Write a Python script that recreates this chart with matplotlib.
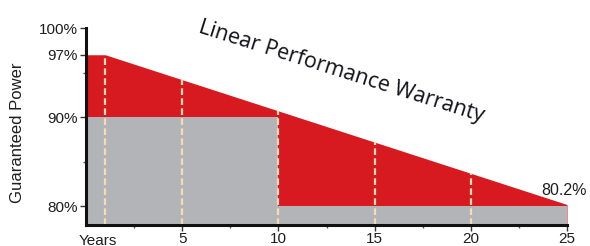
import matplotlib
matplotlib.use("Agg")
import matplotlib.pyplot as plt
import numpy as np

# data
years_line = [0, 1, 25]
warranty_line = [97.0, 97.0, 80.2]
years_step = [0, 10, 10, 25]
step_level = [90, 90, 80, 80]
dash_years = [1, 5, 10, 15, 20]
xticks = [5, 10, 15, 20, 25]
yticks = [80, 90, 97, 100]
ytick_labels = ["80%", "90%", "97%", "100%"]
end_label = "80.2%"
title = "Linear Performance Warranty"

RED = "#d71920"
GRAY = "#b3b4b7"
DASH = "#f6dcb6"
TXT = "#1e1e1e"

fig = plt.figure(figsize=(5.9, 2.46), dpi=100)
ax = fig.add_axes([86/590, 21/246, (567-86)/590, (225-28)/246])
ymin, ymax = 77.9, 100.0
ax.set_xlim(0, 25)
ax.set_ylim(ymin, ymax)

ax.fill_between(years_line, ymin, warranty_line, color=RED, lw=0, zorder=1)
ax.fill_between(years_step, ymin, step_level, color=GRAY, lw=0, zorder=2)

for yr in dash_years:
    top = np.interp(yr, years_line, warranty_line)
    ax.plot([yr, yr], [ymin, top], color=DASH, lw=1.6, ls=(0, (3, 1.5)), zorder=3)

for s in ["top", "right"]:
    ax.spines[s].set_visible(False)
for s in ["left", "bottom"]:
    ax.spines[s].set_linewidth(2.2)
    ax.spines[s].set_color("#111111")
    ax.spines[s].set_zorder(5)

ax.set_xticks(xticks)
ax.set_xticks([2.5, 7.5, 12.5, 17.5, 22.5], minor=True)
ax.set_yticks(yticks)
ax.set_yticklabels(ytick_labels)
ax.set_yticks([85, 95], minor=True)
ax.tick_params(axis="both", which="major", length=4, width=1, color="#333333",
               labelsize=11, labelcolor=TXT, pad=2)
ax.tick_params(axis="x", which="major", pad=1)
ax.tick_params(axis="both", which="minor", length=2.5, width=1, color="#555555")
for lab in ax.get_xticklabels() + ax.get_yticklabels():
    lab.set_fontfamily("Liberation Sans")

ax.text(0.6, ymin - 1.05, "Years", ha="center", va="top", fontsize=11, color=TXT,
        family="Liberation Sans", clip_on=False)

ax.text(26.05, 80.2 + 0.7, end_label, ha="right", va="bottom", fontsize=11.5,
        color=TXT, family="Liberation Sans", clip_on=False)

fig.text(18/590, 1 - 133/246, "Guaranteed Power", rotation=90, ha="center",
         va="center", fontsize=12, color=TXT, family="Liberation Sans")

fig.text(341/590, 1 - 72/246, title, rotation=-17.5, ha="center", va="center",
         fontsize=15.5, color="#111118", family="Open Sans",
         rotation_mode="anchor")

fig.savefig("out.png", dpi=100)
